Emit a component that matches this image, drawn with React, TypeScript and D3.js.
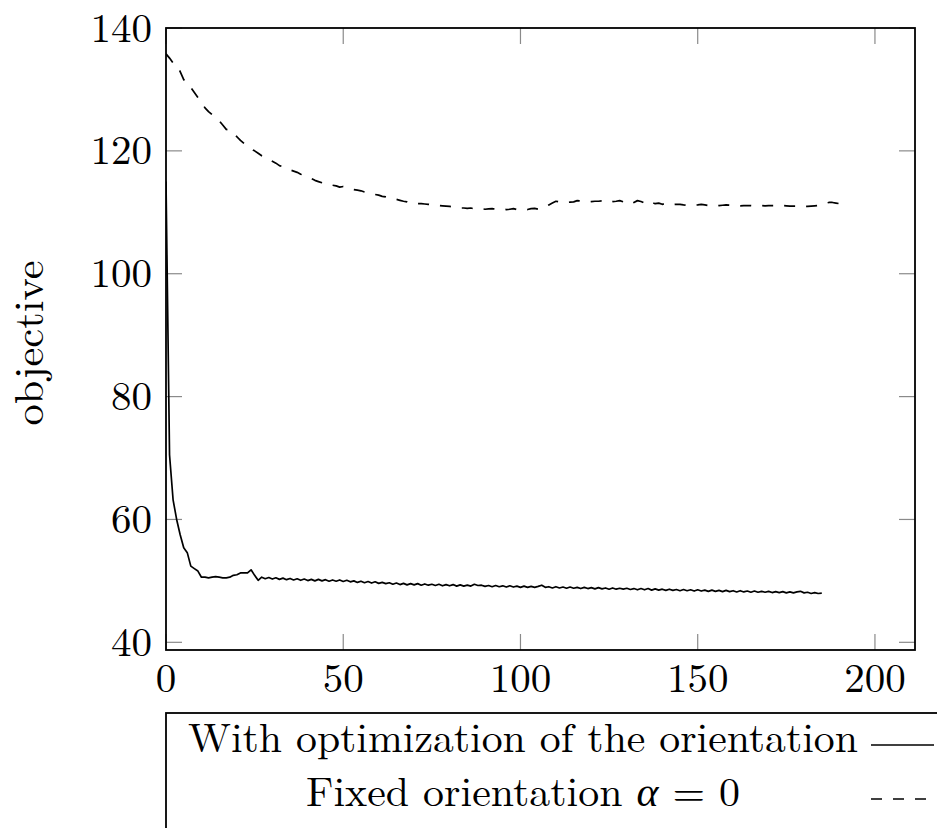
import React from "react";
import * as d3 from "d3";

// ---------- data ----------
const xTicks = [0, 50, 100, 150, 200];
const yTicks = [40, 60, 80, 100, 120, 140];
const yLabel = "objective";
const legendLabels = ["With optimization of the orientation", "Fixed orientation"];

// objective per iteration, with optimization of the orientation (iteration 0..185)
const optimized = [
  115, 70.5, 63.2, 60.0, 57.5, 55.4, 54.6, 52.4, 52.0, 51.6,
  50.6, 50.6, 50.5, 50.6, 50.7, 50.6, 50.5, 50.5, 50.6, 50.9,
  51.0, 51.3, 51.3, 51.3, 51.8, 50.9, 50.1, 50.6, 50.35, 50.55,
  50.3, 50.5, 50.25, 50.45, 50.2, 50.4, 50.15, 50.35, 50.1, 50.3,
  50.05, 50.25, 50.0, 50.25, 50.0, 50.2, 49.95, 50.15, 49.95, 50.15,
  49.9, 50.1, 49.85, 50.0, 49.75, 49.95, 49.7, 49.9, 49.65, 49.85,
  49.6, 49.75, 49.55, 49.7, 49.45, 49.65, 49.4, 49.6, 49.35, 49.55,
  49.35, 49.55, 49.3, 49.5, 49.3, 49.45, 49.25, 49.45, 49.2, 49.4,
  49.2, 49.4, 49.15, 49.35, 49.15, 49.3, 49.15, 49.45, 49.25, 49.3,
  49.1, 49.25, 49.05, 49.25, 49.05, 49.2, 49.0, 49.2, 49.0, 49.15,
  48.95, 49.15, 48.95, 49.1, 48.95, 49.1, 49.3, 48.95, 49.05, 48.85,
  49.05, 48.85, 49.0, 48.8, 49.0, 48.8, 48.95, 48.75, 48.95, 48.75,
  48.9, 48.7, 48.9, 48.7, 48.85, 48.65, 48.85, 48.65, 48.8, 48.65,
  48.8, 48.6, 48.75, 48.55, 48.75, 48.55, 48.75, 48.5, 48.7, 48.5,
  48.65, 48.45, 48.65, 48.45, 48.6, 48.4, 48.6, 48.4, 48.55, 48.35,
  48.55, 48.35, 48.5, 48.3, 48.5, 48.3, 48.45, 48.25, 48.45, 48.25,
  48.4, 48.2, 48.4, 48.2, 48.35, 48.15, 48.35, 48.15, 48.3, 48.15,
  48.3, 48.1, 48.25, 48.1, 48.25, 48.05, 48.2, 48.05, 48.2, 48.3,
  48.05, 48.15, 47.95, 48.1, 47.95, 48.0,
];

// objective per iteration, fixed orientation alpha = 0 (iteration 0..192)
const fixedAlpha = [
  135.8, 135.1, 134.3, 134.0, 132.9, 131.6, 130.8, 130.3, 129.5, 128.7,
  127.9, 127.0, 126.4, 125.9, 125.4, 124.9, 124.2, 123.5, 123.4, 122.8,
  122.3, 121.7, 121.2, 120.7, 120.3, 120.0, 119.6, 119.2, 118.9, 118.6,
  118.3, 118.0, 117.6, 117.4, 117.2, 116.9, 116.7, 116.5, 116.2, 116.0,
  115.7, 115.5, 115.2, 115.0, 114.8, 114.6, 114.4, 114.4, 114.3, 114.1,
  114.2, 114.0, 113.8, 113.7, 113.6, 113.5, 113.3, 113.2, 113.0, 112.9,
  112.8, 112.6, 112.5, 112.3, 112.2, 112.1, 111.95, 111.8, 111.7, 111.5,
  111.45, 111.4, 111.4, 111.35, 111.3, 111.2, 111.15, 111.1, 111.05, 111.0,
  110.95, 110.85, 110.75, 110.7, 110.7, 110.65, 110.7, 110.55, 110.5, 110.6,
  110.5, 110.55, 110.6, 110.5, 110.55, 110.5, 110.45, 110.5, 110.6, 110.45,
  110.55, 110.5, 110.45, 110.6, 110.65, 110.5, 110.7, 110.9, 111.2, 111.5,
  111.8, 111.7, 111.75, 111.6, 111.65, 111.7, 111.9, 111.85, 111.8, 111.8,
  111.75, 111.8, 111.8, 111.85, 111.65, 111.6, 111.75, 111.8, 111.9, 111.7,
  111.5, 111.3, 111.6, 111.9, 111.75, 111.5, 111.85, 111.6, 111.4, 111.5,
  111.3, 111.45, 111.3, 111.25, 111.3, 111.3, 111.2, 111.15, 111.1, 111.15,
  111.2, 111.3, 111.2, 111.1, 111.05, 111.0, 111.1, 111.15, 111.2, 111.15,
  111.1, 111.1, 111.05, 111.1, 111.1, 111.1, 111.05, 111.1, 111.1, 111.05,
  111.1, 111.1, 111.1, 111.05, 111.1, 111.05, 111.0, 111.0, 111.0, 111.0,
  111.0, 110.95, 111.0, 111.05, 111.1, 111.25, 111.45, 111.6, 111.6, 111.5,
  111.4, 111.1, 111.0,
];

// ---------- layout ----------
const W = 937;
const H = 828;
const plot = { left: 166, right: 915, top: 28, bottom: 650 };
const X_DOMAIN: [number, number] = [0, 211.3];
const Y_DOMAIN: [number, number] = [38.75, 140];
const FONT = "'Latin Modern Roman', 'CMU Serif', 'Liberation Serif', serif";
const FS = 41;
const TICK_LEN = 16;
const DASH = "11 11";

export default function App() {
  const x = d3.scaleLinear().domain(X_DOMAIN).range([plot.left, plot.right]);
  const y = d3.scaleLinear().domain(Y_DOMAIN).range([plot.bottom, plot.top]);
  const line = d3
    .line<number>()
    .x((_, i) => x(i))
    .y((d) => y(d));

  const legendTop = 713;
  const legendCx = 523;
  const rows = [
    { textY: 752, lineY: 745, dash: undefined as string | undefined },
    { textY: 806, lineY: 799, dash: DASH },
  ];

  return (
    <svg
      width={W}
      height={H}
      style={{ position: "absolute", left: 0, top: 0, background: "#fff" }}
      fontFamily={FONT}
    >
      <rect x={0} y={0} width={W} height={H} fill="#fff" />
      <defs>
        <clipPath id="plotclip">
          <rect x={plot.left} y={plot.top} width={plot.right - plot.left} height={plot.bottom - plot.top} />
        </clipPath>
      </defs>

      {/* ticks */}
      {xTicks.map((t) => (
        <g key={"xt" + t} stroke="#8a8a8a" strokeWidth={1.2}>
          <line x1={x(t)} x2={x(t)} y1={plot.bottom} y2={plot.bottom - TICK_LEN} />
          <line x1={x(t)} x2={x(t)} y1={plot.top} y2={plot.top + TICK_LEN} />
        </g>
      ))}
      {yTicks.map((t) => (
        <g key={"yt" + t} stroke="#8a8a8a" strokeWidth={1.2}>
          <line x1={plot.left} x2={plot.left + TICK_LEN} y1={y(t)} y2={y(t)} />
          <line x1={plot.right} x2={plot.right - TICK_LEN} y1={y(t)} y2={y(t)} />
        </g>
      ))}

      {/* data */}
      <g clipPath="url(#plotclip)" fill="none" stroke="#000" strokeWidth={1.7} strokeLinejoin="round">
        <path d={line(optimized) || ""} />
        <path d={line(fixedAlpha) || ""} strokeDasharray={DASH} />
      </g>

      {/* frame */}
      <rect
        x={plot.left}
        y={plot.top}
        width={plot.right - plot.left}
        height={plot.bottom - plot.top}
        fill="none"
        stroke="#000"
        strokeWidth={1.8}
      />

      {/* tick labels */}
      {xTicks.map((t) => (
        <text key={"xl" + t} x={x(t)} y={692} fontSize={FS} textAnchor="middle" fill="#000">
          {t}
        </text>
      ))}
      {yTicks.map((t) => (
        <text key={"yl" + t} x={152} y={y(t) + 13.5} fontSize={FS} textAnchor="end" fill="#000">
          {t}
        </text>
      ))}

      {/* y label */}
      <text
        transform={`translate(43, ${(plot.top + plot.bottom) / 2 + 4}) rotate(-90)`}
        fontSize={FS}
        textAnchor="middle"
        fill="#000"
        textLength={165}
        lengthAdjust="spacingAndGlyphs"
      >
        {yLabel}
      </text>

      {/* legend */}
      <rect x={166} y={legendTop} width={800} height={200} fill="#fff" stroke="#000" strokeWidth={1.8} />
      <text
        x={legendCx}
        y={rows[0].textY}
        fontSize={FS}
        textAnchor="middle"
        fill="#000"
        textLength={670}
        lengthAdjust="spacingAndGlyphs"
      >
        {legendLabels[0]}
      </text>
      <text
        x={legendCx}
        y={rows[1].textY}
        fontSize={FS}
        textAnchor="middle"
        fill="#000"
        textLength={434}
        lengthAdjust="spacingAndGlyphs"
      >
        {legendLabels[1] + " "}
        <tspan fontStyle="italic">α</tspan>
        {" = 0"}
      </text>
      {rows.map((r, i) => (
        <line
          key={"ll" + i}
          x1={871}
          x2={934}
          y1={r.lineY}
          y2={r.lineY}
          stroke="#000"
          strokeWidth={1.7}
          strokeDasharray={r.dash}
        />
      ))}
    </svg>
  );
}
